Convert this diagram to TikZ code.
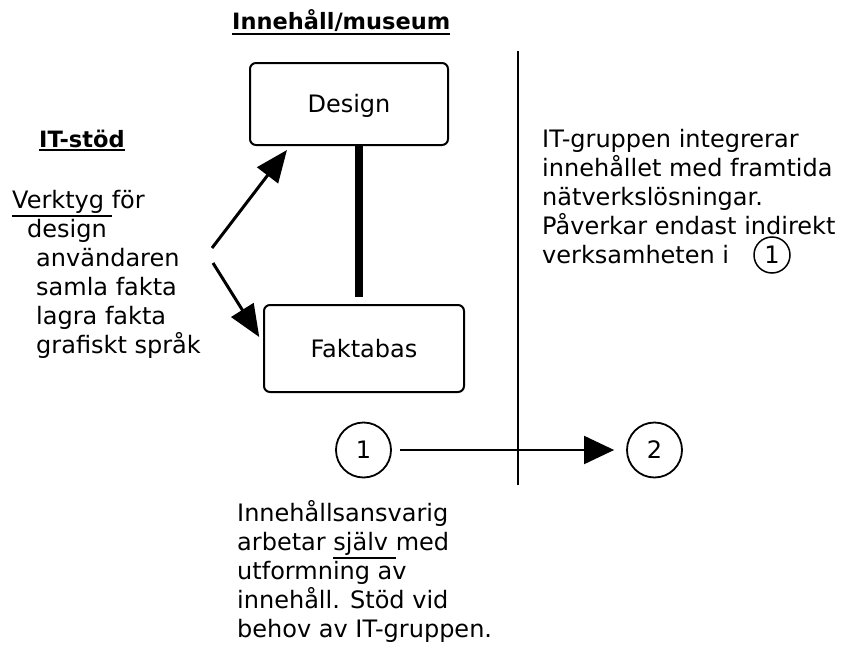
\documentclass[tikz,border=0pt]{standalone}
\usepackage{fontspec}
\setmainfont{DejaVu Sans}
\usetikzlibrary{arrows.meta, positioning, calc}

% underline below the descenders
\newcommand{\undl}[1]{\setbox0\hbox{#1}\rlap{\rule[\dimexpr-\dp0-3.6pt\relax]{\wd0}{1.6pt}}\box0}

\begin{document}
\begin{tikzpicture}[x=1pt, y=-1pt,
  box/.style={draw, line width=2pt, rounded corners=6pt, font=\fontsize{24}{29}\selectfont,
              text height=17.5pt, text depth=0pt},
  num/.style={draw, circle, line width=1.8pt, minimum size=55pt, inner sep=0pt,
              font=\fontsize{24}{29}\selectfont},
  txt/.style={anchor=base west, align=left, inner sep=0pt, font=\fontsize{24}{29}\selectfont},
  head/.style={anchor=base west, inner sep=0pt, font=\fontsize{22.5}{27}\selectfont\bfseries}]

\useasboundingbox (0,0) rectangle (855,648);

% Headings
\node[head] (museum) at (232,29) {\undl{Innehåll/museum}};
\node[head] (itstod) at (39,147) {\undl{IT-stöd}};

% Content boxes
\node[box, minimum width=198pt, minimum height=82pt] (design) at (349,104) {Design};
\node[box, minimum width=200pt, minimum height=87pt] (faktabas) at (364,348.5) {Faktabas};
\draw[line width=8pt, shorten >=7pt] ($(design.south)+(10,0)$) -- ($(faktabas.north)+(-5,0)$);

% IT tools (base = last line)
\node[txt] (verktyg) at (12,353) {\undl{Verktyg\ }för\\
  \hspace*{15pt}design\\
  \hspace*{24pt}användaren\\
  \hspace*{24pt}samla fakta\\
  \hspace*{24pt}lagra fakta\\
  \hspace*{24pt}grafiskt språk};
\coordinate (toolsup) at (212,248);
\coordinate (toolsdn) at (213,263);
\draw[line width=3pt, -{Triangle[length=32pt,width=26pt]}, shorten >=5pt]
  (toolsup) -- ($(design.south west)+(41,0)$);
\draw[line width=3pt, -{Triangle[length=32pt,width=26pt]}, shorten >=7pt]
  (toolsdn) -- ($(faktabas.north west)+(0,39)$);

% Divider
\coordinate (divtop) at (518,51);
\coordinate (divbot) at (518,485);
\draw[line width=2pt] (divtop) -- (divbot);

% Right side
\node[txt] (itgrupp) at (542,263) {IT-gruppen integrerar\\innehållet med framtida\\
  nätverkslösningar.\\Påverkar endast indirekt\\verksamheten i};
\node[num, minimum size=36pt, line width=1.5pt] (ref1) at (772,255) {1};

% Stages
\node[num] (one) at (363.5,450) {1};
\node[num] (two) at (654.5,450) {2};
\draw[line width=2pt, -{Triangle[length=30pt,width=28pt]}, shorten <=8pt, shorten >=12pt] (one) -- (two);

\node[txt] (ansvar) at (237,637) {Innehållsansvarig\\arbetar \undl{själv\ }med\\
  utformning av\\innehåll. Stöd vid\\behov av IT-gruppen.};

\end{tikzpicture}
\end{document}
